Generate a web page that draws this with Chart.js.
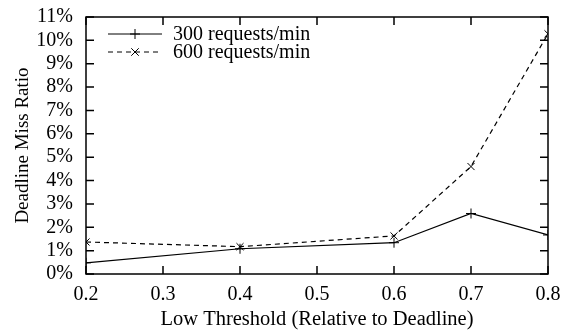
<!DOCTYPE html>
<html lang="en">
  <head>
    <meta charset="UTF-8" />
    <title>Deadline Miss Ratio</title>
    <script src="https://cdn.jsdelivr.net/npm/chart.js@4.4.1/dist/chart.umd.min.js"></script>
    <style>
      body {
        margin: 0;
        background: white;
      }
      .chart-container {
        width: 564px;
        height: 332px;
      }
    </style>
  </head>
  <body>
    <div class="chart-container">
      <canvas id="myChart"></canvas>
    </div>

    <script>
      const thresholds = [0.2, 0.4, 0.6, 0.7, 0.8];
      const miss300 = [0.48, 1.08, 1.34, 2.59, 1.67];
      const miss600 = [1.37, 1.17, 1.63, 4.6, 10.28];
      const seriesNames = ["300 requests/min", "600 requests/min"];
      const xTicks = [0.2, 0.3, 0.4, 0.5, 0.6, 0.7, 0.8];
      const yTicks = [0, 1, 2, 3, 4, 5, 6, 7, 8, 9, 10, 11];

      const serif = "'Liberation Serif', 'DejaVu Serif', serif";

      // gnuplot style: frame, inward ticks on all four sides, key in the corner
      const frame = {
        id: "frame",
        afterDraw(chart) {
          const { ctx, chartArea: a, scales } = chart;
          const len = 8;
          ctx.save();
          ctx.strokeStyle = "black";
          ctx.lineWidth = 1.5;
          ctx.strokeRect(a.left, a.top, a.right - a.left, a.bottom - a.top);
          ctx.beginPath();
          xTicks.forEach((v) => {
            const x = scales.x.getPixelForValue(v);
            ctx.moveTo(x, a.bottom);
            ctx.lineTo(x, a.bottom - len);
            ctx.moveTo(x, a.top);
            ctx.lineTo(x, a.top + len);
          });
          yTicks.forEach((v) => {
            const y = scales.y.getPixelForValue(v);
            ctx.moveTo(a.left, y);
            ctx.lineTo(a.left + len, y);
            ctx.moveTo(a.right, y);
            ctx.lineTo(a.right - len, y);
          });
          ctx.stroke();

          // key
          ctx.font = "20px " + serif;
          ctx.fillStyle = "black";
          ctx.textBaseline = "middle";
          chart.data.datasets.forEach((ds, i) => {
            const y = 34 + i * 18;
            const x0 = 108, x1 = 162, xm = 135;
            ctx.lineWidth = 1;
            ctx.setLineDash(ds.borderDash || []);
            ctx.beginPath();
            ctx.moveTo(x0, y);
            ctx.lineTo(x1, y);
            ctx.stroke();
            ctx.setLineDash([]);
            const r = 5;
            ctx.beginPath();
            if (ds.pointStyle === "cross") {
              ctx.moveTo(xm - r, y);
              ctx.lineTo(xm + r, y);
              ctx.moveTo(xm, y - r);
              ctx.lineTo(xm, y + r);
            } else {
              const d = r * 0.75;
              ctx.moveTo(xm - d, y - d);
              ctx.lineTo(xm + d, y + d);
              ctx.moveTo(xm - d, y + d);
              ctx.lineTo(xm + d, y - d);
            }
            ctx.stroke();
            ctx.fillText(ds.label, 173, y + 1);
          });
          ctx.restore();
        },
      };

      const ctx = document.getElementById("myChart").getContext("2d");
      const myChart = new Chart(ctx, {
        type: "line",
        data: {
          datasets: [
            {
              label: seriesNames[0],
              data: thresholds.map((t, i) => ({ x: t, y: miss300[i] })),
              borderColor: "black",
              backgroundColor: "black",
              borderWidth: 1.2,
              pointStyle: "cross",
              pointRadius: 5,
              pointBorderWidth: 1,
              tension: 0,
            },
            {
              label: seriesNames[1],
              data: thresholds.map((t, i) => ({ x: t, y: miss600[i] })),
              borderColor: "black",
              backgroundColor: "black",
              borderWidth: 1.2,
              borderDash: [5, 4],
              pointStyle: "crossRot",
              pointRadius: 5,
              pointBorderWidth: 1,
              tension: 0,
            },
          ],
        },
        options: {
          responsive: true,
          maintainAspectRatio: false,
          animation: false,
          layout: {
            padding: { top: 8, right: 16, bottom: 0, left: 12 },
          },
          scales: {
            x: {
              type: "linear",
              min: 0.2,
              max: 0.8,
              afterBuildTicks: (s) => {
                s.ticks = xTicks.map((v) => ({ value: v }));
              },
              afterFit: (s) => {
                s.height = 58;
              },
              grid: { display: false },
              border: { display: false },
              ticks: {
                color: "black",
                font: { family: serif, size: 20 },
                padding: 1,
                maxRotation: 0,
                autoSkip: false,
                callback: (v) => v.toFixed(1),
              },
              title: {
                display: true,
                text: "Low Threshold (Relative to Deadline)",
                color: "black",
                font: { family: serif, size: 20.5 },
                padding: { top: 12, bottom: 0 },
              },
            },
            y: {
              min: 0,
              max: 11,
              afterBuildTicks: (s) => {
                s.ticks = yTicks.map((v) => ({ value: v }));
              },
              afterFit: (s) => {
                s.width = 74;
              },
              grid: { display: false },
              border: { display: false },
              ticks: {
                color: "black",
                font: { family: serif, size: 20 },
                padding: 5,
                autoSkip: false,
                callback: (v) => v + "%",
              },
              title: {
                display: true,
                text: "Deadline Miss Ratio",
                color: "black",
                font: { family: serif, size: 19 },
                padding: { top: 0, bottom: 2 },
              },
            },
          },
          plugins: {
            legend: { display: false },
            tooltip: { enabled: false },
          },
        },
        plugins: [frame],
      });
    </script>
  </body>
</html>
